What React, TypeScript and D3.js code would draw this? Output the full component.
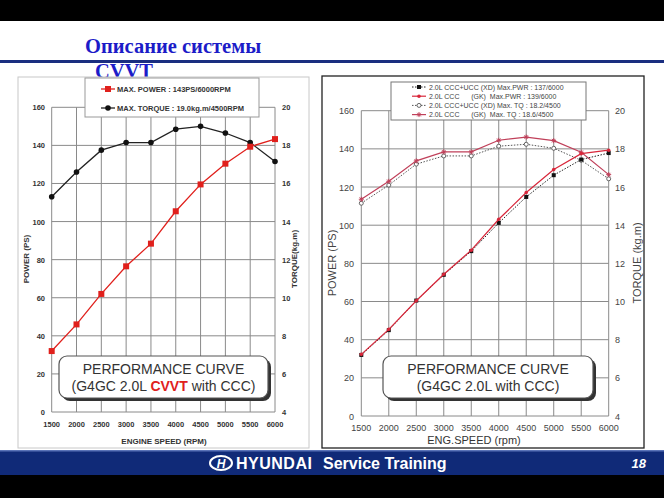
import React from "react";
import * as d3 from "d3";

const rpm = [1500, 2000, 2500, 3000, 3500, 4000, 4500, 5000, 5500, 6000];
const powerTicks = [0, 20, 40, 60, 80, 100, 120, 140, 160];
const torqueTicks = [4, 6, 8, 10, 12, 14, 16, 18, 20];

const leftPower = [32, 46, 62, 76.5, 88.4, 105.4, 119.5, 130.4, 139.3, 143.3];
const leftTorque = [15.3, 16.6, 17.75, 18.15, 18.15, 18.85, 19.0, 18.65, 18.15, 17.15];

const rightPowerXD = [32, 45, 60.5, 74, 86.4, 101.2, 114.8, 126.2, 134.4, 137.8];
const rightPowerGK = [32.3, 45.4, 60.4, 74.3, 86.9, 103.1, 117.1, 129.2, 137.5, 139.3];
const rightTorqueXD = [15.15, 16.1, 17.2, 17.63, 17.63, 18.14, 18.24, 18.03, 17.4, 16.43];
const rightTorqueGK = [15.36, 16.3, 17.37, 17.84, 17.84, 18.45, 18.62, 18.43, 17.82, 16.65];

const leftLegend = ["MAX. POWER : 143PS/6000RPM", "MAX. TORQUE : 19.0kg.m/4500RPM"];
const rightLegend = [
  "2.0L CCC+UCC (XD) Max.PWR : 137/6000",
  "2.0L CCC      (GK)  Max.PWR : 139/6000",
  "2.0L CCC+UCC (XD) Max. TQ : 18.2/4500",
  "2.0L CCC      (GK)  Max. TQ : 18.6/4500",
];

const FONT = "'Liberation Sans', Arial, sans-serif";

type Frame = { x0: number; x1: number; y0: number; y1: number };

function Grid({ f, color }: { f: Frame; color: string }) {
  const x = d3.scaleLinear().domain([1500, 6000]).range([f.x0, f.x1]);
  const y = d3.scaleLinear().domain([0, 160]).range([f.y1, f.y0]);
  return (
    <g>
      {rpm.map((r) => (
        <line key={"v" + r} x1={x(r)} x2={x(r)} y1={f.y0} y2={f.y1} stroke={color} strokeWidth={1} />
      ))}
      {powerTicks.map((p) => (
        <line key={"h" + p} x1={f.x0} x2={f.x1} y1={y(p)} y2={y(p)} stroke={color} strokeWidth={1} />
      ))}
    </g>
  );
}

function TextBox({ x, y, w, h, line1, line2 }: { x: number; y: number; w: number; h: number; line1: string; line2: React.ReactNode }) {
  return (
    <g>
      <rect x={x + 3} y={y + 3} width={w} height={h} rx={8} fill="#333" />
      <rect x={x} y={y} width={w} height={h} rx={8} fill="#fff" stroke="#555" strokeWidth={1.2} />
      <text x={x + w / 2} y={y + 18} textAnchor="middle" fontFamily={FONT} fontSize={14} fill="#333">{line1}</text>
      <text x={x + w / 2} y={y + 35} textAnchor="middle" fontFamily={FONT} fontSize={14} fill="#333">{line2}</text>
    </g>
  );
}

function LeftChart() {
  const f: Frame = { x0: 51.7, x1: 275, y0: 107.3, y1: 412 };
  const x = d3.scaleLinear().domain([1500, 6000]).range([f.x0, f.x1]);
  const y = d3.scaleLinear().domain([0, 160]).range([f.y1, f.y0]);
  const yt = d3.scaleLinear().domain([4, 20]).range([f.y1, f.y0]);
  const lp = d3.line<number>().x((_, i) => x(rpm[i])).y((d) => y(d));
  const lt = d3.line<number>().x((_, i) => x(rpm[i])).y((d) => yt(d));
  return (
    <g>
      <rect x={18} y={77} width={291} height={371} fill="#fff" stroke="#c8c8c8" strokeWidth={1} />
      <Grid f={f} color="#8a8a8a" />
      {powerTicks.map((p) => (
        <text key={p} x={45} y={y(p) + 3} textAnchor="end" fontFamily={FONT} fontSize={7.5} fontWeight="bold" fill="#333">{p}</text>
      ))}
      {torqueTicks.map((t) => (
        <text key={t} x={282} y={yt(t) + 3} textAnchor="start" fontFamily={FONT} fontSize={7.5} fontWeight="bold" fill="#333">{t}</text>
      ))}
      {rpm.map((r) => (
        <text key={r} x={x(r)} y={427} textAnchor="middle" fontFamily={FONT} fontSize={7.5} fontWeight="bold" fill="#333">{r}</text>
      ))}
      <text x={164} y={444} textAnchor="middle" fontFamily={FONT} fontSize={8} fontWeight="bold" fill="#333">ENGINE SPEED (RPM)</text>
      <text transform="translate(29,259) rotate(-90)" textAnchor="middle" fontFamily={FONT} fontSize={8} fontWeight="bold" fill="#333">POWER (PS)</text>
      <text transform="translate(297,259) rotate(-90)" textAnchor="middle" fontFamily={FONT} fontSize={8} fontWeight="bold" fill="#333">TORQUE(kg.m)</text>
      <path d={lt(leftTorque) || ""} fill="none" stroke="#222" strokeWidth={1.3} />
      {leftTorque.map((t, i) => (
        <circle key={i} cx={x(rpm[i])} cy={yt(t)} r={2.8} fill="#111" />
      ))}
      <path d={lp(leftPower) || ""} fill="none" stroke="#e0201c" strokeWidth={1.3} />
      {leftPower.map((p, i) => (
        <rect key={i} x={x(rpm[i]) - 3} y={y(p) - 3} width={6} height={6} fill="#e0201c" />
      ))}
      <rect x={85} y={78} width={174} height={39} fill="#fff" stroke="#999" strokeWidth={1} />
      <line x1={101} x2={115} y1={89} y2={89} stroke="#e0201c" strokeWidth={1.3} />
      <rect x={105} y={86} width={6} height={6} fill="#e0201c" />
      <text x={117} y={92} fontFamily={FONT} fontSize={7.5} fontWeight="bold" fill="#333">{leftLegend[0]}</text>
      <line x1={101} x2={115} y1={108} y2={108} stroke="#222" strokeWidth={1.3} />
      <circle cx={108} cy={108} r={2.8} fill="#111" />
      <text x={117} y={111} fontFamily={FONT} fontSize={7.5} fontWeight="bold" fill="#333">{leftLegend[1]}</text>
      <TextBox x={59} y={356} w={209} h={42} line1="PERFORMANCE CURVE"
        line2={<><tspan>(G4GC 2.0L </tspan><tspan fill="#e0201c" fontWeight="bold">CVVT</tspan><tspan> with CCC)</tspan></>} />
    </g>
  );
}

function Star({ cx, cy, color }: { cx: number; cy: number; color: string }) {
  const s = 2.5;
  return (
    <g stroke={color} strokeWidth={1}>
      <line x1={cx - s} x2={cx + s} y1={cy} y2={cy} />
      <line x1={cx} x2={cx} y1={cy - s} y2={cy + s} />
      <line x1={cx - s * 0.7} x2={cx + s * 0.7} y1={cy - s * 0.7} y2={cy + s * 0.7} />
      <line x1={cx - s * 0.7} x2={cx + s * 0.7} y1={cy + s * 0.7} y2={cy - s * 0.7} />
    </g>
  );
}

function RightChart() {
  const f: Frame = { x0: 361.3, x1: 608.7, y0: 110.7, y1: 416 };
  const x = d3.scaleLinear().domain([1500, 6000]).range([f.x0, f.x1]);
  const y = d3.scaleLinear().domain([0, 160]).range([f.y1, f.y0]);
  const yt = d3.scaleLinear().domain([4, 20]).range([f.y1, f.y0]);
  const lp = d3.line<number>().x((_, i) => x(rpm[i])).y((d) => y(d));
  const lt = d3.line<number>().x((_, i) => x(rpm[i])).y((d) => yt(d));
  const red = "#d8263a";
  const gkT = "#c0405a";
  return (
    <g>
      <rect x={322} y={76} width={322} height={372} fill="#fff" stroke="#222" strokeWidth={1.3} />
      <Grid f={f} color="#8a8a8a" />
      {powerTicks.map((p) => (
        <text key={p} x={354} y={y(p) + 3.5} textAnchor="end" fontFamily={FONT} fontSize={9} fill="#444">{p}</text>
      ))}
      {torqueTicks.map((t) => (
        <text key={t} x={615} y={yt(t) + 3.5} textAnchor="start" fontFamily={FONT} fontSize={9} fill="#444">{t}</text>
      ))}
      {rpm.map((r) => (
        <text key={r} x={x(r)} y={431} textAnchor="middle" fontFamily={FONT} fontSize={9} fill="#444">{r}</text>
      ))}
      <text x={474} y={444} textAnchor="middle" fontFamily={FONT} fontSize={11} fill="#333">ENG.SPEED (rpm)</text>
      <text transform="translate(336,263) rotate(-90)" textAnchor="middle" fontFamily={FONT} fontSize={11} fill="#444">POWER (PS)</text>
      <text transform="translate(641,263) rotate(-90)" textAnchor="middle" fontFamily={FONT} fontSize={11} fill="#444">TORQUE (kg.m)</text>

      <path d={lt(rightTorqueXD) || ""} fill="none" stroke="#555" strokeWidth={1} strokeDasharray="1.5,1.5" />
      {rightTorqueXD.map((t, i) => (
        <circle key={i} cx={x(rpm[i])} cy={yt(t)} r={2} fill="#fff" stroke="#555" strokeWidth={0.9} />
      ))}
      <path d={lt(rightTorqueGK) || ""} fill="none" stroke={gkT} strokeWidth={1.2} />
      {rightTorqueGK.map((t, i) => (
        <Star key={i} cx={x(rpm[i])} cy={yt(t)} color={gkT} />
      ))}
      <path d={lp(rightPowerXD) || ""} fill="none" stroke="#222" strokeWidth={1} strokeDasharray="1.5,1.5" />
      {rightPowerXD.map((p, i) => (
        <rect key={i} x={x(rpm[i]) - 2} y={y(p) - 2} width={4} height={4} fill="#111" />
      ))}
      <path d={lp(rightPowerGK) || ""} fill="none" stroke={red} strokeWidth={1.2} />
      {rightPowerGK.map((p, i) => (
        <circle key={i} cx={x(rpm[i])} cy={y(p)} r={1.8} fill={red} />
      ))}

      <rect x={391} y={82} width={195} height={38} fill="#fff" stroke="#777" strokeWidth={1} />
      {rightLegend.map((s, i) => {
        const ly = 87 + i * 9.2;
        return (
          <g key={i}>
            {i === 0 && <line x1={412} x2={426} y1={ly} y2={ly} stroke="#222" strokeDasharray="1.5,1.5" />}
            {i === 0 && <rect x={417} y={ly - 2} width={4} height={4} fill="#111" />}
            {i === 1 && <line x1={412} x2={426} y1={ly} y2={ly} stroke={red} strokeWidth={1.2} />}
            {i === 1 && <circle cx={419} cy={ly} r={1.8} fill={red} />}
            {i === 2 && <line x1={412} x2={426} y1={ly} y2={ly} stroke="#555" strokeDasharray="1.5,1.5" />}
            {i === 2 && <circle cx={419} cy={ly} r={2} fill="#fff" stroke="#555" strokeWidth={0.9} />}
            {i === 3 && <line x1={412} x2={426} y1={ly} y2={ly} stroke={gkT} strokeWidth={1.2} />}
            {i === 3 && <Star cx={419} cy={ly} color={gkT} />}
            <text x={429} y={ly + 2.6} fontFamily={FONT} fontSize={7} fill="#444" style={{ whiteSpace: "pre" }}>{s}</text>
          </g>
        );
      })}
      <TextBox x={383} y={356} w={210} h={42} line1="PERFORMANCE CURVE" line2="(G4GC 2.0L with CCC)" />
    </g>
  );
}

export default function App() {
  return (
    <svg width={664} height={498} style={{ position: "absolute", left: 0, top: 0 }}>
      <rect x={0} y={0} width={664} height={498} fill="#fff" />
      <rect x={0} y={0} width={664} height={21} fill="#000" />
      <text x={85} y={53} fontFamily="'Liberation Serif', 'Times New Roman', serif" fontWeight="bold" fontSize={20.5} fill="#1c1cc8">Описание системы</text>
      <text x={124} y={78} textAnchor="middle" fontFamily="'Liberation Serif', 'Times New Roman', serif" fontWeight="bold" fontSize={20.5} fill="#1c1cc8">CVVT</text>
      <rect x={0} y={60} width={664} height={3} fill="#1a2e80" />
      <LeftChart />
      <RightChart />
      <rect x={0} y={450} width={664} height={25} fill="#102a78" />
      <rect x={0} y={450} width={664} height={1.5} fill="#5a73b8" />
      <rect x={0} y={475} width={664} height={23} fill="#000" />
      <ellipse cx={221} cy={463} rx={11} ry={7} fill="none" stroke="#fff" strokeWidth={2} />
      <text x={221} y={467.5} textAnchor="middle" fontFamily={FONT} fontStyle="italic" fontWeight="bold" fontSize={12} fill="#fff">H</text>
      <text x={236} y={469} fontFamily={FONT} fontWeight="bold" fontSize={16} fill="#fff" letterSpacing={0.5}>HYUNDAI</text>
      <text x={323} y={469} fontFamily={FONT} fontWeight="bold" fontSize={16} fill="#fff">Service Training</text>
      <text x={646} y={468} textAnchor="end" fontFamily={FONT} fontStyle="italic" fontWeight="bold" fontSize={13} fill="#fff">18</text>
    </svg>
  );
}
